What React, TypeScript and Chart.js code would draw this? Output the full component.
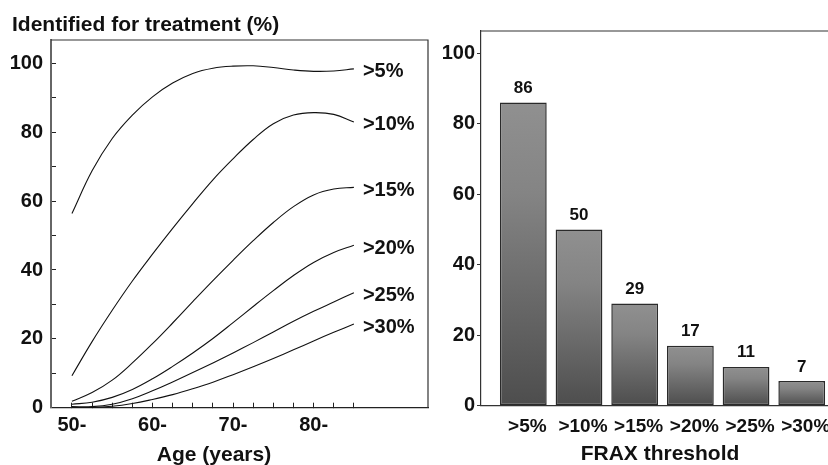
import React, { useEffect, useRef } from 'react';
import { Chart, registerables } from 'chart.js';

Chart.register(...registerables);

// ---- Left chart data: % identified for treatment by age, per FRAX threshold ----
const AGES = [50, 52.5, 55, 57.5, 60, 62.5, 65, 67.5, 70, 72.5, 75, 77.5, 80, 82.5, 85];
const S5 = [56.4, 68.8, 78.2, 85.0, 90.3, 94.3, 97.1, 98.6, 99.2, 99.3, 98.8, 98.1, 97.7, 97.8, 98.4];
const S10 = [9.3, 19.2, 28.3, 36.8, 44.6, 52.1, 59.3, 66.2, 72.3, 77.9, 82.5, 85.0, 85.7, 85.2, 83.0];
const S15 = [1.9, 4.4, 8.0, 13.0, 18.6, 24.6, 30.8, 36.9, 42.8, 48.5, 53.8, 58.4, 61.8, 63.5, 64.0];
const S20 = [1.0, 1.6, 3.0, 5.3, 8.4, 12.0, 15.9, 20.1, 24.7, 29.4, 34.0, 38.4, 42.2, 45.1, 47.2];
const S25 = [0.3, 0.3, 1.0, 2.6, 4.9, 7.5, 10.2, 13.0, 15.9, 18.9, 22.0, 25.1, 28.0, 30.7, 33.4];
const S30 = [0, 0.1, 0.4, 1.2, 2.4, 3.8, 5.5, 7.4, 9.6, 11.9, 14.3, 16.8, 19.4, 21.9, 24.3];
const CURVE_LABELS = ['>5%', '>10%', '>15%', '>20%', '>25%', '>30%'];
const AGE_TICKS = [50, 52.5, 55, 57.5, 60, 62.5, 65, 67.5, 70, 72.5, 75, 77.5, 80, 82.5, 85];
const LEFT_Y_TICKS = [0, 10, 20, 30, 40, 50, 60, 70, 80, 90, 100];
const LEFT_TITLE = 'Identified for treatment (%)';
const LEFT_X_TITLE = 'Age (years)';

// ---- Right chart data ----
const FRAX_CATS = ['>5%', '>10%', '>15%', '>20%', '>25%', '>30%'];
const FRAX_VALUES = [86, 50, 29, 17, 11, 7];
const RIGHT_Y_TICKS = [0, 20, 40, 60, 80, 100];
const RIGHT_X_TITLE = 'FRAX threshold';

const FONT = '"Liberation Sans", Arial, Helvetica, sans-serif';
const INK = '#111';

function LeftChart() {
  const ref = useRef<HTMLCanvasElement>(null);
  useEffect(() => {
    const canvas = ref.current!;
    const series = [S5, S10, S15, S20, S25, S30];
    const decor = {
      id: 'leftDecor',
      beforeDatasetsDraw(chart: any) {
        const { ctx, chartArea: a } = chart;
        ctx.save();
        ctx.strokeStyle = '#333';
        ctx.lineWidth = 1.2;
        ctx.beginPath();
        ctx.moveTo(a.left, a.top);
        ctx.lineTo(a.right, a.top);
        ctx.lineTo(a.right, a.bottom);
        ctx.stroke();
        ctx.restore();
      },
      afterDatasetsDraw(chart: any) {
        const { ctx } = chart;
        ctx.save();
        ctx.fillStyle = INK;
        ctx.font = `bold 20px ${FONT}`;
        ctx.textAlign = 'left';
        ctx.textBaseline = 'middle';
        chart.data.datasets.forEach((_: any, i: number) => {
          const pts = chart.getDatasetMeta(i).data;
          const p = pts[pts.length - 1];
          ctx.fillText(CURVE_LABELS[i], p.x + 9, p.y + 3);
        });
        ctx.restore();
      },
      afterDraw(chart: any) {
        const { ctx } = chart;
        ctx.save();
        ctx.fillStyle = INK;
        ctx.font = `bold 21px ${FONT}`;
        ctx.textBaseline = 'alphabetic';
        ctx.textAlign = 'left';
        ctx.fillText(LEFT_TITLE, 12, 30.5);
        ctx.textAlign = 'center';
        ctx.fillText(LEFT_X_TITLE, 214, 461);
        ctx.restore();
      },
    };
    const chart = new Chart(canvas, {
      type: 'line',
      data: {
        datasets: series.map((s, i) => ({
          label: CURVE_LABELS[i],
          data: AGES.map((a, j) => ({ x: a, y: s[j] })),
          borderColor: '#111',
          borderWidth: 1.1,
          pointRadius: 0,
          tension: 0.4,
          fill: false,
        })),
      },
      options: {
        animation: false,
        responsive: false,
        layout: { padding: { top: 40, right: 12, left: 0, bottom: 0 } },
        plugins: { legend: { display: false }, tooltip: { enabled: false } },
        scales: {
          x: {
            type: 'linear',
            min: 47.4,
            max: 94.2,
            afterBuildTicks: (s: any) => {
              s.ticks = AGE_TICKS.map((v) => ({ value: v }));
            },
            afterFit: (s: any) => {
              s.height = 57.3;
            },
            grid: { display: true, drawOnChartArea: false, drawTicks: true, tickLength: -5, color: '#222', lineWidth: 1 },
            border: { display: true, color: '#222', width: 1.2 },
            ticks: {
              autoSkip: false,
              maxRotation: 0,
              padding: 11,
              color: INK,
              font: { family: FONT, size: 20, weight: 'bold' },
              callback: (v: any) => (Number(v) % 10 === 0 ? `${v}-` : ''),
            },
          },
          y: {
            type: 'linear',
            min: 0,
            max: 106.8,
            afterBuildTicks: (s: any) => {
              s.ticks = LEFT_Y_TICKS.map((v) => ({ value: v }));
            },
            afterFit: (s: any) => {
              s.width = 51;
            },
            grid: { display: true, drawOnChartArea: false, drawTicks: true, tickLength: -5, color: '#222', lineWidth: 1 },
            border: { display: true, color: '#666', width: 2 },
            ticks: {
              autoSkip: false,
              padding: 13,
              color: INK,
              font: { family: FONT, size: 20, weight: 'bold' },
              callback: (v: any) => (Number(v) % 20 === 0 ? String(v) : ''),
            },
          },
        },
      } as any,
      plugins: [decor],
    });
    return () => chart.destroy();
  }, []);
  return <canvas ref={ref} width={440} height={465} style={{ position: 'absolute', left: 0, top: 0 }} />;
}

function RightChart() {
  const ref = useRef<HTMLCanvasElement>(null);
  useEffect(() => {
    const canvas = ref.current!;
    const barFill = (c: any) => {
      const chart = c.chart;
      if (!chart.chartArea || c.type !== 'data' || !c.parsed) return '#777';
      const ys = chart.scales.y;
      const top = ys.getPixelForValue(c.parsed.y);
      const base = ys.getPixelForValue(0);
      const g = chart.ctx.createLinearGradient(0, top, 0, base);
      g.addColorStop(0, '#909090');
      g.addColorStop(0.3, '#848484');
      g.addColorStop(1, '#4d4d4d');
      return g;
    };
    const decor = {
      id: 'rightDecor',
      beforeDatasetsDraw(chart: any) {
        const { ctx, chartArea: a } = chart;
        ctx.save();
        ctx.strokeStyle = '#333';
        ctx.lineWidth = 1.2;
        ctx.beginPath();
        ctx.moveTo(a.left, a.top);
        ctx.lineTo(a.right, a.top);
        ctx.lineTo(a.right, a.bottom);
        ctx.stroke();
        ctx.restore();
      },
      afterDatasetsDraw(chart: any) {
        const { ctx } = chart;
        ctx.save();
        ctx.fillStyle = INK;
        ctx.font = `bold 17px ${FONT}`;
        ctx.textAlign = 'center';
        ctx.textBaseline = 'alphabetic';
        chart.getDatasetMeta(0).data.forEach((bar: any, i: number) => {
          ctx.fillText(String(FRAX_VALUES[i]), bar.x, bar.y - 9.5);
        });
        ctx.restore();
      },
      afterDraw(chart: any) {
        const { ctx } = chart;
        ctx.save();
        ctx.fillStyle = INK;
        ctx.font = `bold 21px ${FONT}`;
        ctx.textAlign = 'center';
        ctx.textBaseline = 'alphabetic';
        ctx.fillText(RIGHT_X_TITLE, 220, 460);
        ctx.restore();
      },
    };
    const chart = new Chart(canvas, {
      type: 'bar',
      data: {
        datasets: [
          {
            data: FRAX_VALUES.map((v, i) => ({ x: i, y: v })),
            backgroundColor: barFill,
            borderColor: '#2a2a2a',
            borderWidth: 1.5,
            borderSkipped: false,
            barPercentage: 0.84,
            categoryPercentage: 1,
          },
        ],
      },
      options: {
        animation: false,
        responsive: false,
        layout: { padding: { top: 31, right: 10, left: 0, bottom: 0 } },
        plugins: { legend: { display: false }, tooltip: { enabled: false } },
        scales: {
          x: {
            type: 'linear',
            min: -0.76,
            max: 6.226,
            offset: false,
            afterBuildTicks: (s: any) => {
              s.ticks = FRAX_CATS.map((_, i) => ({ value: i }));
            },
            afterFit: (s: any) => {
              s.height = 59.3;
            },
            grid: { display: false, drawTicks: false, offset: false },
            border: { display: true, color: '#333', width: 1.2 },
            ticks: {
              autoSkip: false,
              maxRotation: 0,
              padding: 10,
              labelOffset: 4,
              color: INK,
              font: { family: FONT, size: 19, weight: 'bold' },
              callback: (v: any) => FRAX_CATS[Number(v)] ?? '',
            },
          },
          y: {
            type: 'linear',
            min: 0,
            max: 106.3,
            afterBuildTicks: (s: any) => {
              s.ticks = RIGHT_Y_TICKS.map((v) => ({ value: v }));
            },
            afterFit: (s: any) => {
              s.width = 41;
            },
            grid: { display: true, drawOnChartArea: false, drawTicks: true, tickLength: 4, color: '#333' },
            border: { display: true, color: '#333', width: 1.2 },
            ticks: {
              autoSkip: false,
              padding: 2,
              color: INK,
              font: { family: FONT, size: 20, weight: 'bold' },
            },
          },
        },
      } as any,
      plugins: [decor],
    });
    return () => chart.destroy();
  }, []);
  return <canvas ref={ref} width={440} height={465} style={{ position: 'absolute', left: 440, top: 0 }} />;
}

export default function App() {
  return (
    <div
      style={{
        position: 'fixed',
        left: 0,
        top: 0,
        width: 828,
        height: 465,
        overflow: 'hidden',
        background: '#fff',
      }}
    >
      <LeftChart />
      <RightChart />
    </div>
  );
}
